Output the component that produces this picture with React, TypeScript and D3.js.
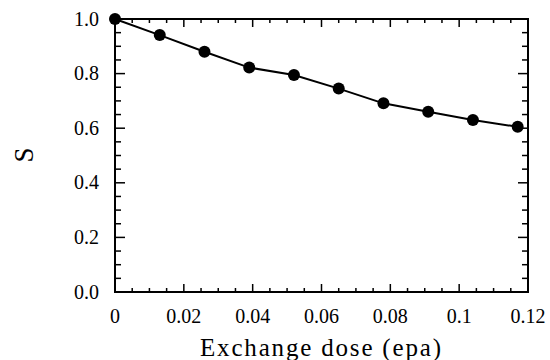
import React from "react";
import * as d3 from "d3";

const doses = [0, 0.013, 0.026, 0.039, 0.052, 0.065, 0.078, 0.091, 0.104, 0.117];
const sValues = [1.0, 0.941, 0.88, 0.822, 0.795, 0.745, 0.691, 0.66, 0.63, 0.605];
const xTicks = [0, 0.02, 0.04, 0.06, 0.08, 0.1, 0.12];
const xTickLabels = ["0", "0.02", "0.04", "0.06", "0.08", "0.1", "0.12"];
const yTicks = [0, 0.2, 0.4, 0.6, 0.8, 1.0];
const yTickLabels = ["0.0", "0.2", "0.4", "0.6", "0.8", "1.0"];
const xLabel = "Exchange dose (epa)";
const yLabel = "S";

export default function App() {
  const W = 550, H = 360;
  const left = 115, right = 528, top = 19, bottom = 292;
  const x = d3.scaleLinear().domain([0, 0.12]).range([left, right]);
  const y = d3.scaleLinear().domain([0, 1]).range([bottom, top]);
  const xMinor = d3.range(0, 0.12 + 1e-9, 0.005);
  const yMinor = d3.range(0, 1 + 1e-9, 0.05);
  const line = d3.line<number>().x((_, i) => x(doses[i])).y((d) => y(d));
  const font = "Liberation Serif";
  return (
    <svg width={W} height={H} style={{ position: "absolute", left: 0, top: 0 }}>
      <rect x={0} y={0} width={W} height={H} fill="#fff" />
      {xMinor.map((v, i) => {
        const major = Math.abs(v / 0.02 - Math.round(v / 0.02)) < 1e-6;
        const len = major ? 8 : 4;
        return (
          <g key={"xm" + i} stroke="#000" strokeWidth={1.5}>
            <line x1={x(v)} x2={x(v)} y1={bottom} y2={bottom - len} />
            <line x1={x(v)} x2={x(v)} y1={top} y2={top + len} />
          </g>
        );
      })}
      {yMinor.map((v, i) => {
        const major = Math.abs(v / 0.2 - Math.round(v / 0.2)) < 1e-6;
        const len = major ? 10 : 6;
        return (
          <g key={"ym" + i} stroke="#000" strokeWidth={1.5}>
            <line x1={left} x2={left + len} y1={y(v)} y2={y(v)} />
            <line x1={right} x2={right - len} y1={y(v)} y2={y(v)} />
          </g>
        );
      })}
      <rect x={left} y={top} width={right - left} height={bottom - top} fill="none" stroke="#000" strokeWidth={2} />
      {xTicks.map((v, i) => (
        <text key={"xt" + i} x={x(v)} y={323} textAnchor="middle" fontFamily={font} fontSize={20} fill="#000">
          {xTickLabels[i]}
        </text>
      ))}
      {yTicks.map((v, i) => (
        <text key={"yt" + i} x={99} y={y(v) + 6.5} textAnchor="end" fontFamily={font} fontSize={20} fill="#000">
          {yTickLabels[i]}
        </text>
      ))}
      <text x={200} y={356} fontFamily={font} fontSize={25} textLength={241} lengthAdjust="spacing" fill="#000">
        {xLabel}
      </text>
      <text transform={`translate(33,155) rotate(-90)`} textAnchor="middle" fontFamily={font} fontSize={27} fill="#000">
        {yLabel}
      </text>
      <path d={line(sValues) || ""} fill="none" stroke="#000" strokeWidth={2} />
      {sValues.map((v, i) => (
        <circle key={"p" + i} cx={x(doses[i])} cy={y(v)} r={6} fill="#000" />
      ))}
    </svg>
  );
}
